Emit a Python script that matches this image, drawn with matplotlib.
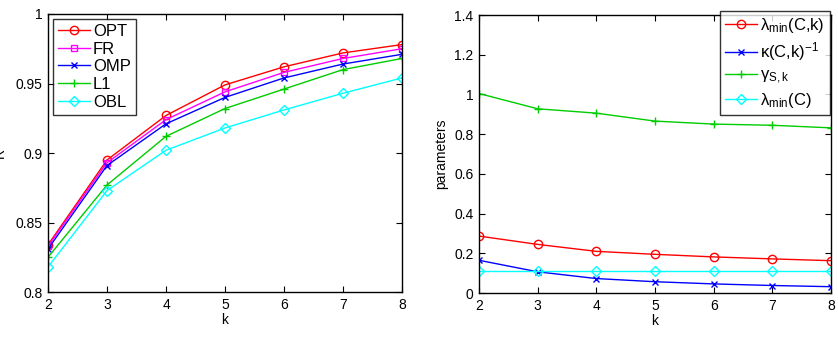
import matplotlib
matplotlib.use("Agg")
import matplotlib.pyplot as plt

plt.rcParams['font.family'] = ['Liberation Sans', 'DejaVu Sans']
plt.rcParams['mathtext.fontset'] = 'custom'
plt.rcParams['mathtext.rm'] = 'Liberation Sans'
plt.rcParams['mathtext.it'] = 'Liberation Sans'

k = [2, 3, 4, 5, 6, 7, 8]
opt = [0.834, 0.895, 0.927, 0.949, 0.962, 0.972, 0.978]
fr = [0.833, 0.893, 0.924, 0.944, 0.958, 0.968, 0.975]
omp = [0.831, 0.891, 0.921, 0.940, 0.954, 0.964, 0.971]
l1 = [0.825, 0.877, 0.912, 0.932, 0.946, 0.960, 0.968]
obl = [0.818, 0.873, 0.902, 0.918, 0.931, 0.943, 0.954]

lam_ck = [0.287, 0.245, 0.210, 0.195, 0.182, 0.172, 0.163]
kappa_inv = [0.165, 0.107, 0.073, 0.057, 0.046, 0.038, 0.032]
gamma = [1.005, 0.928, 0.906, 0.866, 0.851, 0.845, 0.832]
lam_c = [0.113, 0.113, 0.113, 0.113, 0.113, 0.113, 0.113]

fig = plt.figure(figsize=(8.38, 3.38), dpi=100)
ax1 = fig.add_axes([0.0573, 0.136, 0.4224, 0.8226])
ax2 = fig.add_axes([0.5716, 0.133, 0.4200, 0.8224])

ms = 6
ax1.plot(k, opt, '-o', color='red', mfc='none', ms=ms, lw=1, label='OPT')
ax1.plot(k, fr, '-s', color='magenta', mfc='none', ms=ms-1, lw=1, label='FR')
ax1.plot(k, omp, '-x', color='blue', ms=ms-2, lw=1, label='OMP')
ax1.plot(k, l1, '-+', color='#00cc00', ms=ms, lw=1, label='L1')
ax1.plot(k, obl, '-D', color='cyan', mfc='none', ms=ms-1, lw=1, label='OBL')
ax1.set_xlim(2, 8)
ax1.set_ylim(0.8, 1.0)
ax1.set_yticks([0.8, 0.85, 0.9, 0.95, 1.0])
ax1.set_yticklabels(['0.8', '0.85', '0.9', '0.95', '1'])
ax1.set_xlabel('k', fontsize=10, labelpad=1)
ax1.set_ylabel('R', fontsize=10, labelpad=6)
leg1 = ax1.legend(loc='upper left', fontsize=12, frameon=True, fancybox=False,
                  edgecolor='black', handlelength=1.9, borderpad=0.3,
                  labelspacing=0.16, handletextpad=0.2, borderaxespad=0.3)
leg1.get_frame().set_linewidth(1.0)

ax2.plot(k, lam_ck, '-o', color='red', mfc='none', ms=ms, lw=1,
         label=r'$\lambda_{\mathrm{min}}$(C,k)')
ax2.plot(k, kappa_inv, '-x', color='blue', ms=ms-2, lw=1,
         label=r'$\kappa$(C,k)$^{-1}$')
ax2.plot(k, gamma, '-+', color='#00cc00', ms=ms, lw=1,
         label=r'$\gamma_{\mathrm{S,k}}$')
ax2.plot(k, lam_c, '-D', color='cyan', mfc='none', ms=ms-1, lw=1,
         label=r'$\lambda_{\mathrm{min}}$(C)')
ax2.set_xlim(2, 8)
ax2.set_ylim(0, 1.4)
ax2.set_yticks([0, 0.2, 0.4, 0.6, 0.8, 1.0, 1.2, 1.4])
ax2.set_yticklabels(['0', '0.2', '0.4', '0.6', '0.8', '1', '1.2', '1.4'])
ax2.set_xlabel('k', fontsize=10, labelpad=1)
ax2.set_ylabel('parameters', fontsize=10, labelpad=4)
leg2 = ax2.legend(loc='upper right', fontsize=12, frameon=True, fancybox=False,
                  edgecolor='black', handlelength=1.9, borderpad=0.3,
                  labelspacing=0.3, handletextpad=0.2, borderaxespad=0.0,
                  bbox_to_anchor=(0.997, 1.0144))
leg2.get_frame().set_linewidth(1.0)

for ax in (ax1, ax2):
    ax.set_xticks(k)
    ax.tick_params(direction='in', top=True, right=True, labelsize=10,
                   length=4, width=0.8, pad=4)
    for s in ax.spines.values():
        s.set_linewidth(1.0)

fig.savefig('out.png', dpi=100)
